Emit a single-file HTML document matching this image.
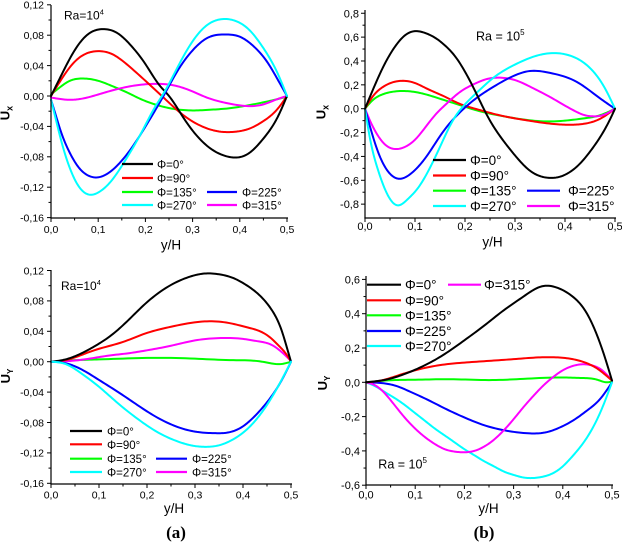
<!DOCTYPE html>
<html><head><meta charset="utf-8"><style>
html,body{margin:0;padding:0;background:#fff;}
svg{display:block;}
text{font-family:"Liberation Sans",Arial,sans-serif;fill:#000;}
.t1{font-size:10.5px;}
.t2{font-size:11px;}
.lg1{font-size:11.5px;}
.lg2{font-size:13.5px;}
.xl{font-size:13.5px;}
.yl{font-size:13px;font-weight:bold;}
.ab{font-family:"Liberation Serif",serif;font-size:17px;font-weight:bold;}
</style></head><body>
<svg id="s" width="622" height="543" viewBox="0 0 622 543" xmlns="http://www.w3.org/2000/svg">
<rect width="622" height="543" fill="#fff"/>
<g id="curves"></g>
<g id="axes" stroke="#000" stroke-width="1.2" fill="none"></g>

<!-- Panel 1 -->
<g class="t1" text-anchor="end">
<text x="44" y="8.6">0,12</text><text x="44" y="39">0,08</text><text x="44" y="69.4">0,04</text><text x="44" y="99.8">0,00</text>
<text x="44" y="130.2">-0,04</text><text x="44" y="160.6">-0,08</text><text x="44" y="191">-0,12</text><text x="44" y="221.4">-0,16</text>
</g>
<g class="t1" text-anchor="middle">
<text x="51" y="233">0,0</text><text x="98.2" y="233">0,1</text><text x="145.4" y="233">0,2</text><text x="192.6" y="233">0,3</text><text x="239.8" y="233">0,4</text><text x="287" y="233">0,5</text>
</g>
<text class="xl" x="171" y="249.5" text-anchor="middle">y/H</text>
<text class="yl" transform="translate(9.5,113) rotate(-90)" text-anchor="middle">U<tspan font-size="9" dy="3">x</tspan></text>
<text style="font-size:12px" x="64" y="19.5">Ra=10<tspan font-size="7.5" dy="-5">4</tspan></text>

<!-- Panel 2 -->
<g class="t2" text-anchor="end">
<text x="359" y="17.3">0,8</text><text x="359" y="41.1">0,6</text><text x="359" y="65">0,4</text><text x="359" y="88.8">0,2</text><text x="359" y="112.7">0,0</text>
<text x="359" y="136.6">-0,2</text><text x="359" y="160.4">-0,4</text><text x="359" y="184.3">-0,6</text><text x="359" y="208.1">-0,8</text>
</g>
<g class="t2" text-anchor="middle">
<text x="365" y="230">0,0</text><text x="415" y="230">0,1</text><text x="465" y="230">0,2</text><text x="515" y="230">0,3</text><text x="565" y="230">0,4</text><text x="615" y="230">0,5</text>
</g>
<text class="xl" x="492.5" y="246.5" text-anchor="middle">y/H</text>
<text class="yl" transform="translate(325.5,112) rotate(-90)" text-anchor="middle">U<tspan font-size="9" dy="3">x</tspan></text>
<text style="font-size:12.5px" x="476" y="40.7">Ra = 10<tspan font-size="8" dy="-5.5">5</tspan></text>

<!-- Panel 3 -->
<g class="t1" text-anchor="end">
<text x="44" y="274.3">0,12</text><text x="44" y="304.7">0,08</text><text x="44" y="335.1">0,04</text><text x="44" y="365.5">0,00</text>
<text x="44" y="395.9">-0,04</text><text x="44" y="426.3">-0,08</text><text x="44" y="456.7">-0,12</text><text x="44" y="487.1">-0,16</text>
</g>
<g class="t1" text-anchor="middle">
<text x="51" y="498.5">0,0</text><text x="99" y="498.5">0,1</text><text x="147" y="498.5">0,2</text><text x="195" y="498.5">0,3</text><text x="243" y="498.5">0,4</text><text x="291" y="498.5">0,5</text>
</g>
<text class="xl" x="174" y="513" text-anchor="middle">y/H</text>
<text class="yl" transform="translate(10,376) rotate(-90)" text-anchor="middle">U<tspan font-size="8" dy="3">Y</tspan></text>
<text style="font-size:12px" x="61" y="290">Ra=10<tspan font-size="7.5" dy="-5">4</tspan></text>

<!-- Panel 4 -->
<g class="t2" text-anchor="end">
<text x="360" y="283.4">0,6</text><text x="360" y="317.7">0,4</text><text x="360" y="352">0,2</text><text x="360" y="386.3">0,0</text>
<text x="360" y="420.6">-0,2</text><text x="360" y="454.9">-0,4</text><text x="360" y="489.2">-0,6</text>
</g>
<g class="t2" text-anchor="middle">
<text x="366" y="498.5">0,0</text><text x="415.2" y="498.5">0,1</text><text x="464.4" y="498.5">0,2</text><text x="513.6" y="498.5">0,3</text><text x="562.8" y="498.5">0,4</text><text x="612" y="498.5">0,5</text>
</g>
<text class="xl" x="488.5" y="513" text-anchor="middle">y/H</text>
<text class="yl" transform="translate(327,383) rotate(-90)" text-anchor="middle">U<tspan font-size="8" dy="3">Y</tspan></text>
<text style="font-size:12.5px" x="378.3" y="468.5">Ra = 10<tspan font-size="8" dy="-5.5">5</tspan></text>

<!-- Legends -->
<g stroke-width="2.2" fill="none">
<line x1="122" y1="164" x2="153" y2="164" stroke="#000"/>
<line x1="122" y1="178" x2="153" y2="178" stroke="#ff0000"/>
<line x1="122" y1="192" x2="153" y2="192" stroke="#00ff00"/>
<line x1="122" y1="205" x2="153" y2="205" stroke="#00ffff"/>
<line x1="207" y1="192" x2="237" y2="192" stroke="#0000ff"/>
<line x1="207" y1="205" x2="237" y2="205" stroke="#ff00ff"/>

<line x1="433" y1="160" x2="466" y2="160" stroke="#000"/>
<line x1="433" y1="175.5" x2="466" y2="175.5" stroke="#ff0000"/>
<line x1="433" y1="190.7" x2="466" y2="190.7" stroke="#00ff00"/>
<line x1="433" y1="206" x2="466" y2="206" stroke="#00ffff"/>
<line x1="527" y1="190.7" x2="560" y2="190.7" stroke="#0000ff"/>
<line x1="527" y1="206" x2="560" y2="206" stroke="#ff00ff"/>

<line x1="70" y1="431" x2="102" y2="431" stroke="#000"/>
<line x1="70" y1="444.3" x2="102" y2="444.3" stroke="#ff0000"/>
<line x1="70" y1="458.7" x2="102" y2="458.7" stroke="#00ff00"/>
<line x1="70" y1="472" x2="102" y2="472" stroke="#00ffff"/>
<line x1="156" y1="458.7" x2="187" y2="458.7" stroke="#0000ff"/>
<line x1="156" y1="472" x2="187" y2="472" stroke="#ff00ff"/>

<line x1="367" y1="284.7" x2="401" y2="284.7" stroke="#000"/>
<line x1="367" y1="300.3" x2="401" y2="300.3" stroke="#ff0000"/>
<line x1="367" y1="315.3" x2="401" y2="315.3" stroke="#00ff00"/>
<line x1="367" y1="331" x2="401" y2="331" stroke="#0000ff"/>
<line x1="367" y1="346" x2="401" y2="346" stroke="#00ffff"/>
<line x1="448" y1="284.7" x2="481" y2="284.7" stroke="#ff00ff"/>
</g>
<g class="lg1">
<text x="157" y="168.5">Φ=0°</text><text x="157" y="182.5">Φ=90°</text><text x="157" y="196.5">Φ=135°</text><text x="157" y="209.5">Φ=270°</text>
<text x="242" y="196.5">Φ=225°</text><text x="242" y="209.5">Φ=315°</text>
<text x="107" y="435.5">Φ=0°</text><text x="107" y="448.8">Φ=90°</text><text x="107" y="463.2">Φ=135°</text><text x="107" y="476.5">Φ=270°</text>
<text x="192" y="463.2">Φ=225°</text><text x="192" y="476.5">Φ=315°</text>
</g>
<g class="lg2">
<text x="470" y="165">Φ=0°</text><text x="470" y="180.5">Φ=90°</text><text x="470" y="195.7">Φ=135°</text><text x="470" y="211">Φ=270°</text>
<text x="568" y="195.7">Φ=225°</text><text x="568" y="211">Φ=315°</text>
<text x="405" y="289.7">Φ=0°</text><text x="405" y="305.3">Φ=90°</text><text x="405" y="320.3">Φ=135°</text><text x="405" y="336">Φ=225°</text><text x="405" y="351">Φ=270°</text>
<text x="484" y="289.7">Φ=315°</text>
</g>

<text class="ab" x="176" y="538" text-anchor="middle">(a)</text>
<text class="ab" x="484" y="538" text-anchor="middle">(b)</text>
</svg>
<script>
var C={k:"#000000",r:"#ff0000",g:"#00ff00",b:"#0000ff",c:"#00ffff",m:"#ff00ff"};
var P=[
{x0:51,xs:472,y0:96,ys:760,ax:{top:5,bot:218,right:288},ymaj:[-0.16,0.12,0.04],ymin:0.02,
s:{
g:[[0,0.002],[0.02,0.012],[0.04,0.02],[0.065,0.023],[0.1,0.02],[0.13,0.013],[0.16,0.005],[0.19,-0.004],[0.22,-0.011],[0.26,-0.017],[0.3,-0.019],[0.34,-0.018],[0.38,-0.016],[0.42,-0.012],[0.46,-0.007],[0.5,-0.001]],
m:[[0,-0.002],[0.02,-0.004],[0.04,-0.005],[0.07,-0.003],[0.1,0.002],[0.14,0.009],[0.18,0.014],[0.22,0.016],[0.26,0.014],[0.3,0.006],[0.33,-0.002],[0.37,-0.009],[0.41,-0.013],[0.45,-0.011],[0.48,-0.004],[0.5,0]],
r:[[0,0],[0.02,0.02],[0.05,0.045],[0.1,0.059],[0.13,0.055],[0.16,0.042],[0.2,0.02],[0.24,-0.003],[0.28,-0.025],[0.32,-0.04],[0.36,-0.047],[0.39,-0.047],[0.42,-0.043],[0.45,-0.033],[0.48,-0.017],[0.5,0]],
k:[[0,0],[0.02,0.025],[0.05,0.06],[0.08,0.082],[0.11,0.088],[0.14,0.083],[0.17,0.066],[0.2,0.042],[0.23,0.014],[0.25,0.0],[0.28,-0.028],[0.31,-0.053],[0.34,-0.07],[0.37,-0.079],[0.39,-0.081],[0.42,-0.075],[0.45,-0.056],[0.48,-0.028],[0.5,0]],
b:[[0,-0.005],[0.01,-0.025],[0.02,-0.045],[0.04,-0.075],[0.06,-0.095],[0.08,-0.105],[0.1,-0.107],[0.12,-0.102],[0.15,-0.085],[0.18,-0.06],[0.21,-0.03],[0.24,0.002],[0.27,0.035],[0.3,0.06],[0.33,0.076],[0.37,0.081],[0.4,0.078],[0.43,0.065],[0.46,0.043],[0.48,0.022],[0.5,0]],
c:[[0,-0.005],[0.01,-0.03],[0.02,-0.055],[0.04,-0.095],[0.06,-0.12],[0.085,-0.13],[0.1,-0.127],[0.13,-0.11],[0.16,-0.082],[0.19,-0.05],[0.22,-0.015],[0.24,0.005],[0.27,0.04],[0.3,0.072],[0.33,0.093],[0.36,0.101],[0.39,0.099],[0.42,0.087],[0.45,0.063],[0.48,0.03],[0.5,0]]
}},
{x0:365,xs:500,y0:108.7,ys:119.3,ax:{top:10,bot:218,right:616},ymaj:[-0.8,0.8,0.2],ymin:0.1,
s:{
g:[[0,0],[0.015,0.07],[0.035,0.12],[0.07,0.148],[0.1,0.14],[0.13,0.11],[0.16,0.07],[0.19,0.03],[0.22,-0.01],[0.26,-0.05],[0.3,-0.08],[0.357,-0.106],[0.4,-0.1],[0.44,-0.08],[0.47,-0.055],[0.5,0]],
r:[[0,0],[0.015,0.1],[0.035,0.18],[0.07,0.233],[0.1,0.215],[0.123,0.17],[0.16,0.1],[0.19,0.04],[0.22,0.0],[0.25,-0.035],[0.28,-0.065],[0.32,-0.095],[0.36,-0.12],[0.39,-0.132],[0.417,-0.134],[0.44,-0.125],[0.47,-0.085],[0.5,0]],
m:[[0,0],[0.01,-0.1],[0.025,-0.22],[0.04,-0.3],[0.06,-0.338],[0.08,-0.32],[0.1,-0.26],[0.12,-0.16],[0.143,-0.04],[0.16,0.03],[0.19,0.14],[0.22,0.21],[0.245,0.25],[0.27,0.26],[0.3,0.24],[0.337,0.17],[0.365,0.11],[0.39,0.05],[0.42,-0.02],[0.44,-0.055],[0.457,-0.064],[0.475,-0.055],[0.5,0]],
b:[[0,0],[0.01,-0.15],[0.025,-0.35],[0.045,-0.52],[0.067,-0.587],[0.09,-0.55],[0.123,-0.4],[0.155,-0.2],[0.19,-0.03],[0.22,0.08],[0.257,0.184],[0.3,0.28],[0.33,0.316],[0.37,0.3],[0.423,0.226],[0.47,0.087],[0.5,0]],
c:[[0,0],[0.01,-0.25],[0.025,-0.5],[0.045,-0.72],[0.065,-0.81],[0.085,-0.76],[0.105,-0.67],[0.123,-0.55],[0.15,-0.32],[0.177,-0.09],[0.203,0.05],[0.23,0.16],[0.257,0.26],[0.3,0.37],[0.34,0.44],[0.37,0.465],[0.41,0.445],[0.457,0.31],[0.48,0.17],[0.5,0]],
k:[[0,0],[0.02,0.2],[0.04,0.38],[0.06,0.52],[0.08,0.615],[0.1,0.65],[0.12,0.635],[0.14,0.595],[0.16,0.53],[0.18,0.44],[0.2,0.31],[0.22,0.15],[0.235,0.02],[0.25,-0.1],[0.27,-0.23],[0.29,-0.34],[0.31,-0.44],[0.33,-0.52],[0.35,-0.565],[0.37,-0.58],[0.39,-0.57],[0.41,-0.53],[0.43,-0.46],[0.45,-0.36],[0.47,-0.24],[0.49,-0.09],[0.5,0]]
}},
{x0:51,xs:480,y0:361.7,ys:760,ax:{top:270,bot:484,right:292},ymaj:[-0.16,0.12,0.04],ymin:0.02,
s:{
g:[[0,0],[0.05,0.002],[0.1,0.003],[0.2,0.005],[0.3,0.004],[0.38,0.002],[0.44,0.0],[0.48,-0.003],[0.5,0]],
m:[[0,0],[0.04,0.001],[0.08,0.004],[0.12,0.008],[0.16,0.011],[0.2,0.015],[0.25,0.021],[0.3,0.028],[0.349,0.031],[0.4,0.03],[0.43,0.027],[0.46,0.022],[0.48,0.013],[0.5,0.001]],
r:[[0,0],[0.03,0.002],[0.06,0.008],[0.09,0.015],[0.15,0.026],[0.196,0.037],[0.25,0.046],[0.32,0.053],[0.37,0.051],[0.41,0.045],[0.439,0.039],[0.46,0.03],[0.473,0.022],[0.49,0.01],[0.5,0]],
k:[[0,0],[0.03,0.003],[0.06,0.01],[0.09,0.02],[0.126,0.035],[0.16,0.054],[0.196,0.076],[0.25,0.101],[0.29,0.112],[0.32,0.116],[0.35,0.115],[0.38,0.11],[0.404,0.102],[0.43,0.09],[0.46,0.068],[0.48,0.042],[0.494,0.013],[0.5,0]],
b:[[0,0],[0.03,-0.002],[0.06,-0.009],[0.1,-0.024],[0.14,-0.04],[0.18,-0.057],[0.22,-0.073],[0.26,-0.085],[0.3,-0.092],[0.34,-0.094],[0.37,-0.093],[0.4,-0.085],[0.43,-0.068],[0.46,-0.045],[0.48,-0.025],[0.5,0]],
c:[[0,0],[0.03,-0.003],[0.06,-0.014],[0.1,-0.033],[0.14,-0.055],[0.18,-0.075],[0.22,-0.092],[0.26,-0.104],[0.3,-0.111],[0.32,-0.112],[0.35,-0.11],[0.38,-0.102],[0.41,-0.088],[0.44,-0.066],[0.47,-0.036],[0.5,0]]
}},
{x0:366,xs:492,y0:382.3,ys:171.5,ax:{top:276,bot:485,right:613},ymaj:[-0.6,0.6,0.2],ymin:0.1,
s:{
g:[[0,0],[0.05,0.012],[0.1,0.015],[0.17,0.018],[0.25,0.013],[0.32,0.02],[0.4,0.028],[0.44,0.025],[0.47,0.015],[0.49,0.0],[0.5,0.005]],
b:[[0,0],[0.03,-0.004],[0.06,-0.02],[0.09,-0.055],[0.124,-0.1],[0.16,-0.152],[0.2,-0.205],[0.24,-0.25],[0.287,-0.283],[0.334,-0.298],[0.365,-0.292],[0.395,-0.262],[0.425,-0.215],[0.45,-0.163],[0.475,-0.1],[0.5,0]],
c:[[0,0],[0.02,-0.025],[0.04,-0.06],[0.06,-0.095],[0.08,-0.135],[0.1,-0.18],[0.12,-0.225],[0.14,-0.27],[0.16,-0.31],[0.18,-0.35],[0.2,-0.39],[0.22,-0.425],[0.24,-0.46],[0.26,-0.49],[0.28,-0.52],[0.3,-0.54],[0.32,-0.555],[0.34,-0.558],[0.36,-0.55],[0.38,-0.53],[0.4,-0.49],[0.42,-0.43],[0.44,-0.36],[0.46,-0.27],[0.48,-0.15],[0.5,0]],
m:[[0,0],[0.02,-0.02],[0.04,-0.07],[0.06,-0.14],[0.08,-0.21],[0.1,-0.27],[0.12,-0.32],[0.14,-0.36],[0.16,-0.39],[0.18,-0.404],[0.2,-0.408],[0.22,-0.4],[0.24,-0.375],[0.26,-0.335],[0.28,-0.28],[0.3,-0.215],[0.32,-0.145],[0.34,-0.08],[0.36,-0.02],[0.38,0.03],[0.4,0.07],[0.42,0.095],[0.44,0.105],[0.46,0.098],[0.48,0.07],[0.5,0.01]],
r:[[0,0],[0.03,0.01],[0.06,0.035],[0.1,0.07],[0.15,0.1],[0.2,0.115],[0.25,0.125],[0.3,0.135],[0.35,0.145],[0.39,0.145],[0.42,0.135],[0.45,0.11],[0.47,0.08],[0.49,0.035],[0.5,0.01]],
k:[[0,0],[0.04,0.015],[0.08,0.05],[0.12,0.1],[0.16,0.165],[0.2,0.245],[0.24,0.33],[0.28,0.42],[0.32,0.5],[0.358,0.56],[0.39,0.55],[0.42,0.5],[0.445,0.42],[0.466,0.3],[0.485,0.15],[0.5,0.01]]
}}
];
var NS="http://www.w3.org/2000/svg";
var cg=document.getElementById("curves"),ag=document.getElementById("axes");
function el(tag,attrs,parent){var e=document.createElementNS(NS,tag);for(var k in attrs)e.setAttribute(k,attrs[k]);parent.appendChild(e);return e;}
function f(v){return v.toFixed(2);}
function spline(pts){
  var n=pts.length, x=pts.map(function(p){return p[0];}), y=pts.map(function(p){return p[1];});
  var h=[],i;for(i=0;i<n-1;i++)h.push(x[i+1]-x[i]);
  var a=new Array(n).fill(0),b=new Array(n).fill(1),c=new Array(n).fill(0),d=new Array(n).fill(0);
  for(i=1;i<n-1;i++){a[i]=h[i-1];b[i]=2*(h[i-1]+h[i]);c[i]=h[i];d[i]=6*((y[i+1]-y[i])/h[i]-(y[i]-y[i-1])/h[i-1]);}
  for(i=1;i<n;i++){var w=a[i]/b[i-1];b[i]-=w*c[i-1];d[i]-=w*d[i-1];}
  var M=new Array(n).fill(0);M[n-1]=d[n-1]/b[n-1];
  for(i=n-2;i>=0;i--)M[i]=(d[i]-c[i]*M[i+1])/b[i];
  var out=[];
  for(i=0;i<n-1;i++){
    var N=10;
    for(var j=(i==0?0:1);j<=N;j++){
      var t=x[i]+h[i]*j/N,A=(x[i+1]-t)/h[i],B=(t-x[i])/h[i];
      var v=A*y[i]+B*y[i+1]+((A*A*A-A)*M[i]+(B*B*B-B)*M[i+1])*h[i]*h[i]/6;
      out.push([t,v]);
    }
  }
  return out;
}
P.forEach(function(p){
  for(var key in p.s){
    var pts=spline(p.s[key]).map(function(q){return [p.x0+q[0]*p.xs,p.y0-q[1]*p.ys];});
    var d="M"+f(pts[0][0])+","+f(pts[0][1]);
    for(var i=1;i<pts.length;i++)d+=" L"+f(pts[i][0])+","+f(pts[i][1]);
    el("path",{d:d,stroke:C[key],"stroke-width":"2","fill":"none","stroke-linejoin":"round","stroke-linecap":"round"},cg);
  }
  var a=p.ax;
  el("line",{x1:p.x0,y1:a.top,x2:p.x0,y2:a.bot+0.6},ag);
  el("line",{x1:p.x0-0.6,y1:a.bot,x2:a.right,y2:a.bot},ag);
  for(var i=0;i<=10;i++){
    var x=p.x0+i*0.05*p.xs, L=(i%2==0)?4:2.5;
    el("line",{x1:f(x),y1:a.bot,x2:f(x),y2:a.bot+L,"stroke-width":"1"},ag);
  }
  var lo=p.ymaj[0],hi=p.ymaj[1];
  var n=Math.round((hi-lo)/p.ymin);
  for(var j=0;j<=n;j++){
    var v=lo+j*p.ymin,y=p.y0-v*p.ys,L=(j%2==0)?4:2.5;
    el("line",{x1:p.x0-L,y1:f(y),x2:p.x0,y2:f(y),"stroke-width":"1"},ag);
  }
});
</script>
</body></html>
